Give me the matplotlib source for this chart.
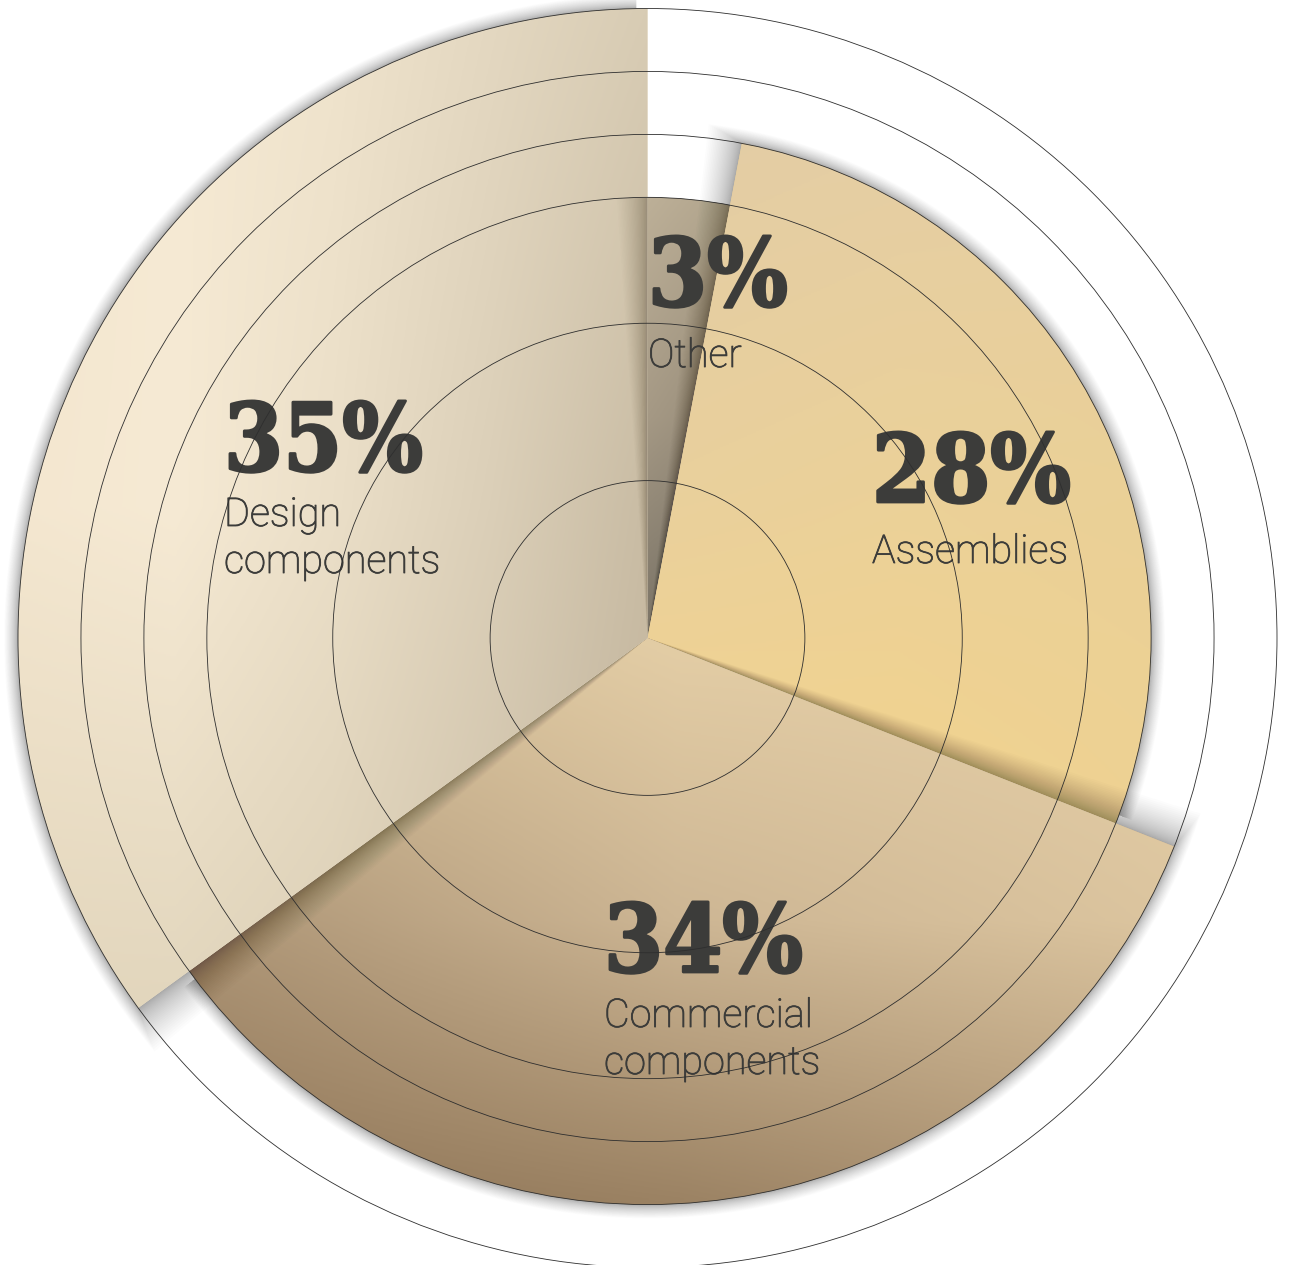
import numpy as np
import matplotlib
matplotlib.use("Agg")
import matplotlib.pyplot as plt
from matplotlib.patches import Wedge, Circle
from matplotlib.colors import to_rgb
import matplotlib.patheffects as pe

# ---------------- data ----------------
categories = ["Other", "Assemblies", "Commercial\ncomponents", "Design\ncomponents"]
shares = [3, 28, 34, 35]                 # percent
radii = [0.70, 0.80, 0.90, 1.00]         # relative wedge length
pct_labels = ["3%", "28%", "34%", "35%"]
ring_radii = [0.25, 0.50, 0.70, 0.80, 0.90, 1.00]

# ---------------- style ----------------
W, H = 1298, 1265
cx, cy, R = 647.5, 638.0, 629.5          # centre / outer radius in pixels

grids = [
    [["#bdb098", "#b2a58d"],
     ["#a59985", "#968b78"],
     ["#7a7366", "#6e695f"]],
    [["#e3cda5", "#e5cea4", "#e6cfa3"],
     ["#e9d09d", "#ebd199", "#ead097"],
     ["#f3d48f", "#f2d38e", "#eed293"]],
    [["#d3bd98", "#e4cea6", "#e5cfa7"],
     ["#ad9576", "#cdb694", "#dcc59f"],
     ["#8f7557", "#9b8263", "#b09777"]],
    [["#f2e5cc", "#f6ead4", "#f0e4cd", "#e4d8c1", "#d8ccb4"],
     ["#f4e7d0", "#f6ead4", "#ebdfc8", "#dbcfb8", "#c9bca4"],
     ["#e3d6bc", "#e2d6bd", "#dcd0b7", "#d0c3ab", "#c2b49c"]],
]
label_px = [(648, 306, 367), (872, 502, 563), (604, 972, 1027), (224, 471, 526)]
line_gap_px = 47
text_color = "#3c3c3a"

fig = plt.figure(figsize=(W / 100, H / 100), dpi=100)
ax = fig.add_axes([0, 0, 1, 1])
ax.axis("off")


def px2d(px, py):
    return (px - cx) / R, (cy - py) / R


def add_shadow(c0, c1, r, z, K=30, max_dth=4.0, max_dr=0.022, a=0.011, inset=1.0):
    for k in range(1, K + 1):
        f = (k / K) ** 1.6
        w = Wedge((0, 0), r + f * max_dr, 90 - c1 + inset, 90 - c0 + f * max_dth,
                  facecolor="black", alpha=a, lw=0, zorder=z)
        ax.add_patch(w)


def add_gradient_wedge(c0, c1, r, grid, z):
    base = Wedge((0, 0), r, 90 - c1, 90 - c0, facecolor=grid[1][len(grid[1]) // 2],
                 edgecolor="none", lw=0, zorder=z)
    ax.add_patch(base)
    angs = np.linspace(c0, c1, 200)
    xs = np.concatenate([[0], r * np.sin(np.radians(angs))])
    ys = np.concatenate([[0], r * np.cos(np.radians(angs))])
    x0, x1, y0, y1 = xs.min(), xs.max(), ys.min(), ys.max()
    arr = np.array([[to_rgb(c) for c in row] for row in grid])
    ny, nx = arr.shape[:2]
    dx = (x1 - x0) / (nx - 1)
    dy = (y1 - y0) / (ny - 1)
    im = ax.imshow(arr, extent=(x0 - dx / 2, x1 + dx / 2, y0 - dy / 2, y1 + dy / 2),
                   origin="upper", interpolation="bilinear", aspect="auto", zorder=z + 0.01)
    im.set_clip_path(base)
    return base


bounds = np.concatenate([[0], np.cumsum(shares)]) * 360.0 / sum(shares)
z = 1
for i in range(len(shares)):
    c0, c1 = bounds[i], bounds[i + 1]
    if i > 0:
        add_shadow(c0, c1, radii[i], z)
    add_gradient_wedge(c0, c1, radii[i], grids[i], z + 0.5)
    z += 1

# shadow of the first wedge falling onto the last one
c0 = bounds[0]
for k in range(1, 31):
    f = (k / 30) ** 1.6
    ax.add_patch(Wedge((0, 0), radii[0], 90 - c0, 90 - c0 + f * 4.0,
                       facecolor="black", alpha=0.008, lw=0, zorder=z))

# rings
for rr in ring_radii:
    ax.add_patch(Circle((0, 0), rr, fill=False, edgecolor="#2e2e2e", lw=0.6, zorder=12))

# texts
for i, cat in enumerate(categories):
    lx, pby, lby = label_px[i]
    x, y = px2d(lx, pby)
    ax.text(x, y, pct_labels[i], family="DejaVu Serif", weight="bold", fontsize=68,
            fontstretch="condensed", color=text_color, ha="left", va="baseline", zorder=11,
            path_effects=[pe.withStroke(linewidth=2.0, foreground=text_color)])
    for j, line in enumerate(cat.split("\n")):
        x, y = px2d(lx, lby + j * line_gap_px)
        ax.text(x, y, line, family="Roboto", weight="light", fontsize=28.5,
                color=text_color, ha="left", va="baseline", zorder=11,
                path_effects=[pe.withStroke(linewidth=0.6, foreground=text_color)])

ax.set_xlim(-cx / R, (W - cx) / R)
ax.set_ylim((cy - H) / R, cy / R)
fig.savefig("out.png", dpi=100, facecolor="white")
